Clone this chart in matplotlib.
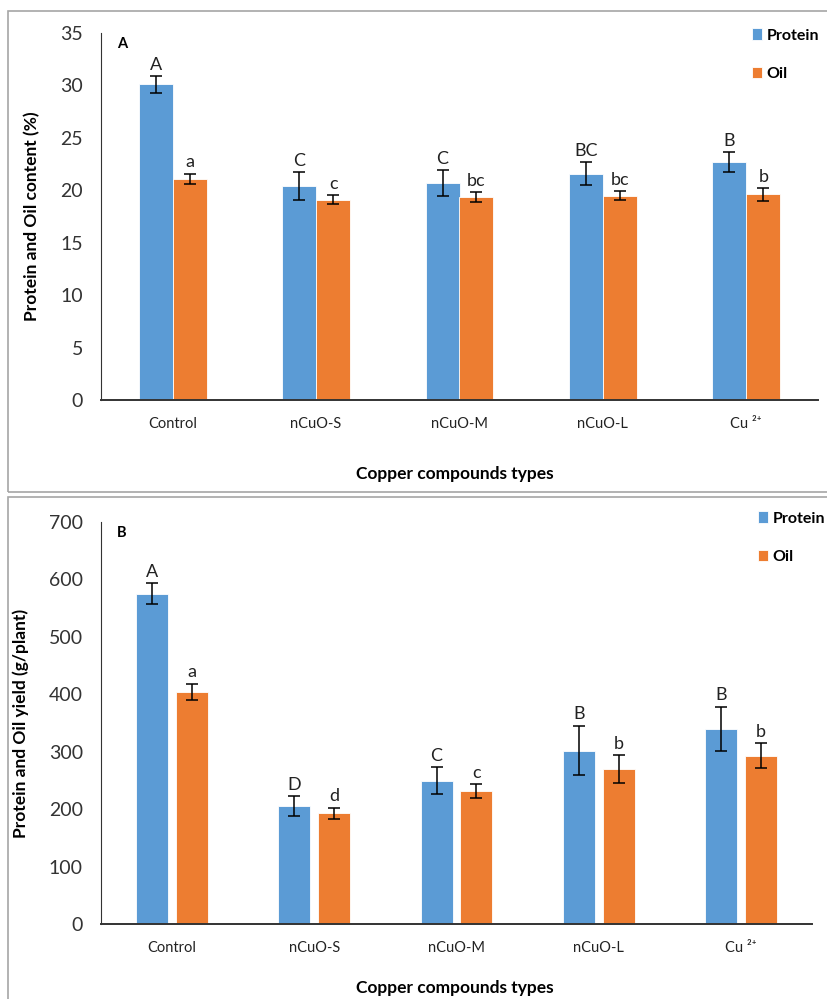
import matplotlib.pyplot as plt
from matplotlib.patches import Rectangle

W, H = 827, 999

categories = ["Control", "nCuO-S", "nCuO-M", "nCuO-L", "Cu ²⁺"]

# Panel A: protein and oil content (%)
content_protein = [30.1, 20.4, 20.7, 21.6, 22.7]
content_protein_err = [0.8, 1.3, 1.25, 1.1, 0.95]
content_oil = [21.1, 19.1, 19.35, 19.5, 19.6]
content_oil_err = [0.5, 0.45, 0.5, 0.4, 0.6]
content_protein_letters = ["A", "C", "C", "BC", "B"]
content_oil_letters = ["a", "c", "bc", "bc", "b"]

# Panel B: protein and oil yield (g/plant)
yield_protein = [575, 206, 250, 302, 340]
yield_protein_err = [18, 17, 23, 43, 38]
yield_oil = [404, 193, 232, 270, 293]
yield_oil_err = [14, 10, 12, 24, 22]
yield_protein_letters = ["A", "D", "C", "B", "B"]
yield_oil_letters = ["a", "d", "c", "b", "b"]

BLUE = "#5B9BD5"
ORANGE = "#ED7D31"
FONT = "Lato"

plt.rcParams["font.family"] = [FONT, "DejaVu Sans"]


def px_axes(fig, left, top, right, bottom):
    return fig.add_axes([left / W, 1 - bottom / H, (right - left) / W, (bottom - top) / H])


def draw_panel(ax, prot, prot_err, oil, oil_err, prot_lab, oil_lab,
               ymax, ystep, width, offset, ylabel, tag, label_pad):
    x = range(len(categories))
    xp = [i - offset for i in x]
    xo = [i + offset for i in x]
    ax.bar(xp, prot, width=width, color=BLUE, edgecolor="white", linewidth=0.6,
           label="Protein")
    ax.bar(xo, oil, width=width, color=ORANGE, edgecolor="white", linewidth=0.6,
           label="Oil")
    ax.errorbar(xp, prot, yerr=prot_err, fmt="none", ecolor="black",
                elinewidth=1.1, capsize=4, capthick=1.1)
    ax.errorbar(xo, oil, yerr=oil_err, fmt="none", ecolor="black",
                elinewidth=1.1, capsize=4, capthick=1.1)
    for xi, v, e, t in zip(xp, prot, prot_err, prot_lab):
        ax.text(xi, v + e + label_pad, t, ha="center", va="bottom", fontsize=13,
                color="#222222")
    for xi, v, e, t in zip(xo, oil, oil_err, oil_lab):
        ax.text(xi, v + e + label_pad, t, ha="center", va="bottom", fontsize=13,
                color="#222222")

    ax.set_xlim(-0.5, len(categories) - 0.5)
    ax.set_ylim(0, ymax)
    ax.set_yticks(range(0, ymax + 1, ystep))
    ax.set_xticks(list(x))
    ax.set_xticklabels(categories, fontsize=10.5, color="#222222")
    ax.tick_params(axis="y", length=0, labelsize=14, pad=13, labelcolor="#333333")
    ax.tick_params(axis="x", length=0, pad=12)
    for s in ("top", "right"):
        ax.spines[s].set_visible(False)
    ax.spines["left"].set_color("#333333")
    ax.spines["bottom"].set_color("#333333")
    ax.spines["bottom"].set_linewidth(1.4)
    ax.set_ylabel(ylabel, fontsize=12.5, fontweight="bold", labelpad=14)
    ax.text(0.022, 0.99, tag, transform=ax.transAxes, fontsize=10.5,
            fontweight="bold", va="top", ha="left")


fig = plt.figure(figsize=(W / 100, H / 100), dpi=100)

# panel frames
fig.patches.append(Rectangle((8 / W, 1 - 492 / H), 830 / W, 481 / H,
                             transform=fig.transFigure, fill=False,
                             edgecolor="#A6A6A6", linewidth=1.2))
fig.patches.append(Rectangle((8 / W, 1 - 1010 / H), 830 / W, 513 / H,
                             transform=fig.transFigure, fill=False,
                             edgecolor="#A6A6A6", linewidth=1.2))

legend_kw = dict(loc="upper left", bbox_transform=fig.transFigure, frameon=False,
                 handlelength=0.6, handleheight=0.7, handletextpad=0.3,
                 labelspacing=1.5, prop={"family": FONT, "weight": "bold", "size": 11.5})

ax_a = px_axes(fig, 101, 33, 818, 400)
draw_panel(ax_a, content_protein, content_protein_err, content_oil, content_oil_err,
           content_protein_letters, content_oil_letters, 35, 5, 0.237, 0.1185,
           "Protein and Oil content (%)", "A", 0.3)
ax_a.legend(bbox_to_anchor=(738 / W, 1 - 14 / H), **legend_kw)
fig.text(455 / W, 1 - 474 / H, "Copper compounds types", ha="center", va="center",
         fontsize=12.5, fontweight="bold")

ax_b = px_axes(fig, 101, 521.7, 812, 924.3)
draw_panel(ax_b, yield_protein, yield_protein_err, yield_oil, yield_oil_err,
           yield_protein_letters, yield_oil_letters, 700, 100, 0.224, 0.14,
           "Protein and Oil yield (g/plant)", "B", 6)
ax_b.legend(bbox_to_anchor=(744 / W, 1 - 497 / H), **legend_kw)
fig.text(455 / W, 1 - 988 / H, "Copper compounds types", ha="center", va="center",
         fontsize=12.5, fontweight="bold")

fig.savefig("out.png", dpi=100)
